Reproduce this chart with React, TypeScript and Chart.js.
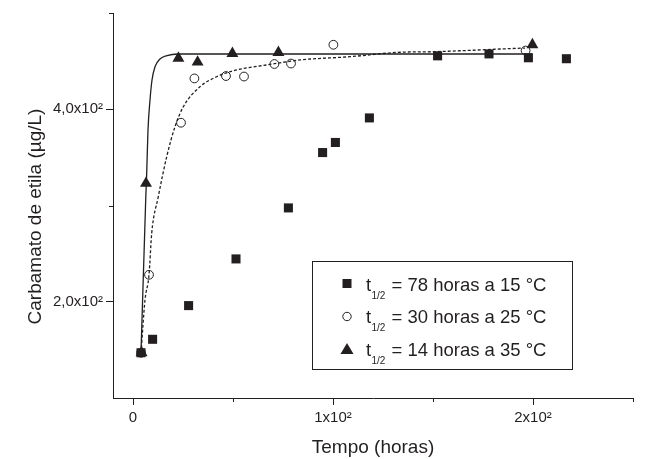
import React, { useEffect, useRef } from "react";
import { Chart, registerables } from "chart.js";

Chart.register(...registerables);

// ---- data ----
const t15 = [4, 9.8, 27.8, 51.5, 77.7, 94.8, 101.2, 118.2, 152.3, 178, 197.7, 216.7];
const c15 = [147, 161, 196, 244.5, 297.5, 355, 365.5, 391, 455.5, 457.5, 453.5, 452.5];

const t25 = [4, 8, 24, 30.7, 46.5, 55.5, 70.7, 79, 100.2, 196.3];
const c25 = [147, 228, 386, 432, 434.5, 434, 447, 447.5, 467, 461];

const t35 = [4.3, 6.5, 22.7, 32.3, 49.7, 72.7, 199.7];
const c35 = [147, 323, 453, 449, 458, 459, 467];

// fitted curves
const fit35T = [4, 6.35, 6.85, 7.5, 8.5, 9.5, 11, 13.5, 17, 22.5, 199.5];
const fit35C = [147, 305.7, 333.8, 378.4, 409.6, 430.4, 444.2, 452.2, 455.8, 457.4, 457.4];

const fit25T = [4, 6, 8, 9.35, 12.65, 16.85, 21, 25.15, 33.5, 41.85, 50.15, 66.85, 83.5, 108.5, 133.5, 150, 191.85, 196];
const fit25C = [147, 201.8, 227.8, 271.1, 309.1, 350.7, 381.9, 402.6, 423.4, 433.8, 440, 446, 451.2, 454.6, 459.2, 459.8, 463.3, 463.6];

// axes
const xMajorTicks = [0, 100, 200];
const xMajorLabels = ["0", "1x10²", "2x10²"];
const xMinorTicks = [50, 150, 250];
const yMajorTicks = [200, 400];
const yMajorLabels = ["2,0x10²", "4,0x10²"];
const yMinorTicks = [300, 500];

const xTitle = "Tempo (horas)";
const yTitle = "Carbamato de etila (µg/L)";

const legendLabels = ["= 78 horas a 15 °C", "= 30 horas a 25 °C", "= 14 horas a 35 °C"];
const legendSymbol = "t";
const legendSub = "1/2";

const INK = "#231f20";
const FONT = "'Liberation Sans', Arial, Helvetica, sans-serif";

const zip = (xs: number[], ys: number[]) => xs.map((x, i) => ({ x, y: ys[i] }));

const minorTicksPlugin = {
  id: "minorTicks",
  afterDraw(chart: any) {
    const { ctx, chartArea, scales } = chart;
    ctx.save();
    ctx.strokeStyle = INK;
    ctx.lineWidth = 1;
    ctx.beginPath();
    xMinorTicks.forEach((v) => {
      const px = Math.round(scales.x.getPixelForValue(v)) + 0.5;
      ctx.moveTo(px, chartArea.bottom);
      ctx.lineTo(px, chartArea.bottom + 4);
    });
    yMinorTicks.forEach((v) => {
      const py = Math.round(scales.y.getPixelForValue(v)) + 0.5;
      ctx.moveTo(chartArea.left - 4, py);
      ctx.lineTo(chartArea.left, py);
    });
    ctx.stroke();
    ctx.restore();
  },
};

const yTitlePlugin = {
  id: "yTitle",
  afterDraw(chart: any) {
    const { ctx, chartArea } = chart;
    ctx.save();
    ctx.translate(35.5, (chartArea.top + chartArea.bottom) / 2 + 11);
    ctx.rotate(-Math.PI / 2);
    ctx.fillStyle = INK;
    ctx.font = `19px ${FONT}`;
    ctx.textAlign = "center";
    ctx.textBaseline = "middle";
    ctx.fillText(yTitle, 0, 0);
    ctx.restore();
  },
};

const legendPlugin = {
  id: "customLegend",
  afterDraw(chart: any) {
    const { ctx } = chart;
    const box = { x: 312.5, y: 261.5, w: 260, h: 108 };
    ctx.save();
    ctx.fillStyle = "#ffffff";
    ctx.fillRect(box.x, box.y, box.w, box.h);
    ctx.strokeStyle = INK;
    ctx.lineWidth = 1;
    ctx.strokeRect(box.x, box.y, box.w, box.h);

    const markerX = 347;
    const markerY = [283.5, 316.5, 349];
    const baseY = [290.5, 323, 355.5];
    const styles = ["rect", "circle", "triangle"];
    ctx.fillStyle = INK;
    ctx.strokeStyle = INK;
    styles.forEach((st, i) => {
      const my = markerY[i];
      ctx.beginPath();
      if (st === "rect") {
        ctx.fillRect(markerX - 4.5, my - 4.5, 9, 9);
      } else if (st === "circle") {
        ctx.arc(markerX, my, 4.2, 0, Math.PI * 2);
        ctx.stroke();
      } else {
        ctx.moveTo(markerX, my - 6);
        ctx.lineTo(markerX + 6.5, my + 5);
        ctx.lineTo(markerX - 6.5, my + 5);
        ctx.closePath();
        ctx.fill();
      }
      ctx.textBaseline = "alphabetic";
      ctx.textAlign = "left";
      ctx.font = `18.5px ${FONT}`;
      ctx.fillText(legendSymbol, 366, baseY[i]);
      ctx.font = `10px ${FONT}`;
      ctx.fillText(legendSub, 371.5, baseY[i] + 8);
      ctx.font = `18.5px ${FONT}`;
      ctx.fillText(legendLabels[i], 391.5, baseY[i]);
    });
    ctx.restore();
  },
};

export default function App() {
  const canvasRef = useRef<HTMLCanvasElement | null>(null);

  useEffect(() => {
    document.body.style.margin = "0";
    const canvas = canvasRef.current;
    if (!canvas) return;
    const chart = new Chart(canvas, {
      type: "scatter",
      data: {
        datasets: [
          {
            label: "15 °C",
            data: zip(t15, c15),
            showLine: false,
            pointStyle: "rect",
            pointRadius: 6.4,
            pointHoverRadius: 6.4,
            backgroundColor: INK,
            borderColor: INK,
            borderWidth: 0,
          },
          {
            label: "35 °C",
            data: zip(t35, c35),
            showLine: false,
            pointStyle: "triangle",
            pointRadius: 6.9,
            pointHoverRadius: 6.9,
            backgroundColor: INK,
            borderColor: INK,
            borderWidth: 0,
          },
          {
            label: "25 °C",
            data: zip(t25, c25),
            showLine: false,
            pointStyle: "circle",
            pointRadius: 4.4,
            pointHoverRadius: 4.4,
            backgroundColor: "rgba(0,0,0,0)",
            borderColor: INK,
            borderWidth: 1,
          },
          {
            label: "fit 35",
            data: zip(fit35T, fit35C),
            showLine: true,
            pointRadius: 0,
            borderColor: INK,
            borderWidth: 1.3,
            cubicInterpolationMode: "monotone",
          },
          {
            label: "fit 25",
            data: zip(fit25T, fit25C),
            showLine: true,
            pointRadius: 0,
            borderColor: INK,
            borderWidth: 1.3,
            borderDash: [3, 2],
            cubicInterpolationMode: "monotone",
          },
        ],
      },
      options: {
        responsive: false,
        animation: false,
        devicePixelRatio: 1,
        layout: { padding: { top: 13, right: 13, left: 0, bottom: 0 } },
        plugins: { legend: { display: false }, tooltip: { enabled: false } },
        scales: {
          x: {
            type: "linear",
            min: -10,
            max: 250,
            afterBuildTicks: (s: any) => {
              s.ticks = xMajorTicks.map((v) => ({ value: v }));
            },
            afterFit: (s: any) => {
              s.height = 61;
            },
            ticks: {
              autoSkip: false,
              maxRotation: 0,
              padding: 4,
              color: INK,
              font: { family: FONT, size: 15 },
              callback: (v: any) => {
                const i = xMajorTicks.indexOf(Number(v));
                return i >= 0 ? xMajorLabels[i] : "";
              },
            },
            grid: { drawOnChartArea: false, tickLength: 7, tickColor: INK, tickWidth: 1 },
            border: { color: INK, width: 1 },
            title: {
              display: true,
              text: xTitle,
              color: INK,
              font: { family: FONT, size: 19 },
              padding: { top: 0, bottom: 0 },
            },
          },
          y: {
            type: "linear",
            min: 100,
            max: 500,
            afterBuildTicks: (s: any) => {
              s.ticks = yMajorTicks.map((v) => ({ value: v }));
            },
            afterFit: (s: any) => {
              s.width = 113;
            },
            ticks: {
              autoSkip: false,
              padding: 3,
              color: INK,
              font: { family: FONT, size: 15 },
              callback: (v: any) => {
                const i = yMajorTicks.indexOf(Number(v));
                return i >= 0 ? yMajorLabels[i] : "";
              },
            },
            grid: { drawOnChartArea: false, tickLength: 7, tickColor: INK, tickWidth: 1 },
            border: { color: INK, width: 1 },
            title: { display: false },
          },
        },
      },
      plugins: [minorTicksPlugin, yTitlePlugin, legendPlugin],
    });
    return () => chart.destroy();
  }, []);

  return (
    <div style={{ position: "absolute", left: 0, top: 0, width: 646, height: 459 }}>
      <canvas ref={canvasRef} width={646} height={459} style={{ display: "block" }} />
    </div>
  );
}
